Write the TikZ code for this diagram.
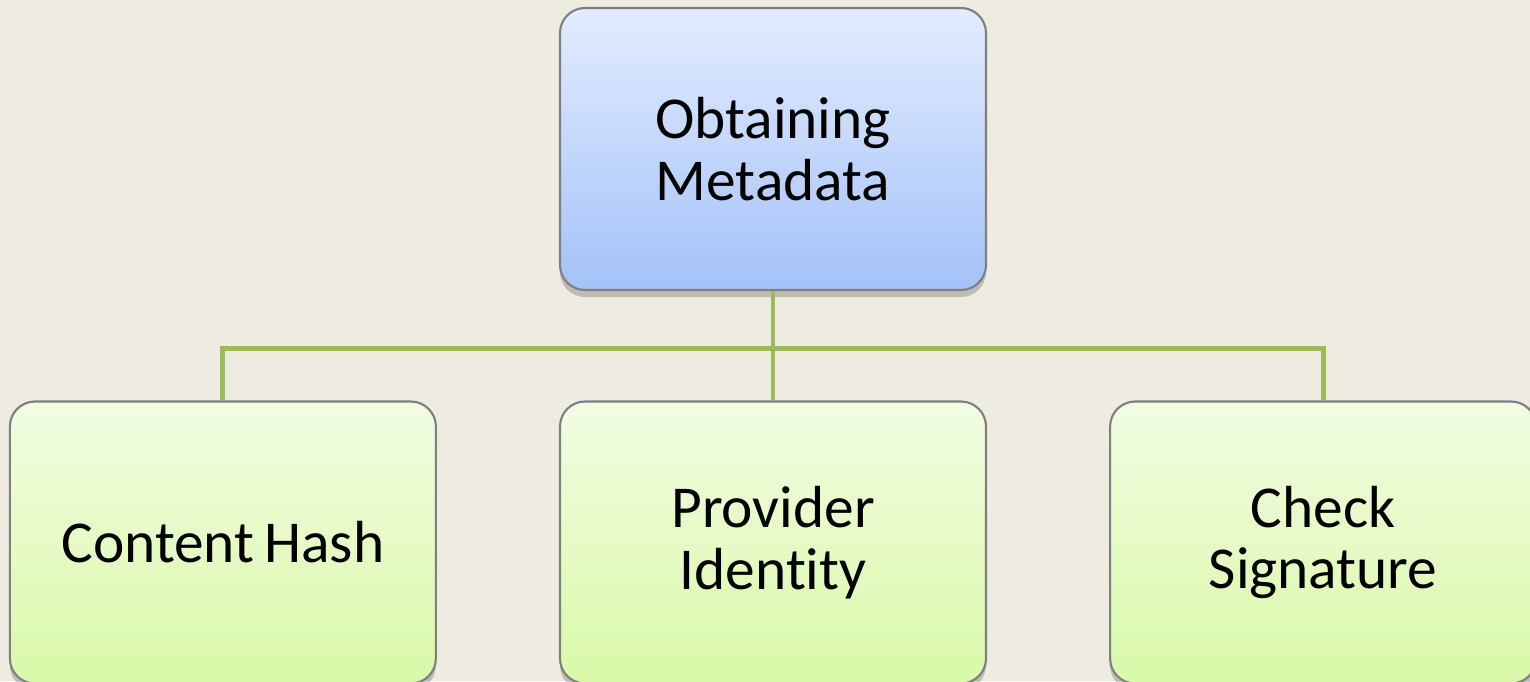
\documentclass[tikz,border=0pt]{standalone}
\usepackage{fontspec}
\setmainfont{Carlito}[Ligatures=NoCommon]
\usepackage{tikz}
\usetikzlibrary{positioning,shadows}
\definecolor{paper}{HTML}{EEEBE0}
\definecolor{boxline}{HTML}{7F7F7F}
\definecolor{branch}{HTML}{9BBB59}
\tikzset{
	every node/.style={font=\fontsize{16.9pt}{17.6pt}\selectfont},
	task/.style={
		rectangle, rounded corners=0.25cm, draw=boxline, line width=0.6pt,
		minimum width=4.26cm, minimum height=2.82cm,
		text width=4cm, align=center,
		drop shadow={shadow xshift=0pt, shadow yshift=-2pt, opacity=0.35, fill=black!60},
	},
	root/.style={task, top color={rgb,255:red,227;green,236;blue,253}, bottom color={rgb,255:red,164;green,194;blue,249}},
	leaf/.style={task, top color={rgb,255:red,242;green,252;blue,227}, bottom color={rgb,255:red,217;green,249;blue,168}},
	link/.style={draw=branch, line width=1.4pt},
}

\begin{document}
\begin{tikzpicture}
	\useasboundingbox[fill=paper] (0,0) rectangle (15.30,-6.81);
	\clip (0,0) rectangle (15.30,-6.81);
	% top of the tree
	\node[root] (meta) at (7.73,-1.49) {Obtaining\\Metadata};
	% the three steps below it
	\node[leaf] (ident) at (7.73,-5.425) {Provider\\Identity};
	\node[leaf, left=1.22cm of ident] (hash) {Content\,Hash};
	\node[leaf, right=1.22cm of ident] (sign) {Check\\Signature};
	% connectors
	\draw[link] (meta.south) -- ++(0,-0.57) -| (hash.north);
	\draw[link] (meta.south) -- ++(0,-0.57) -| (sign.north);
	\draw[link] (meta.south) -- (ident.north);
\end{tikzpicture}
\end{document}
